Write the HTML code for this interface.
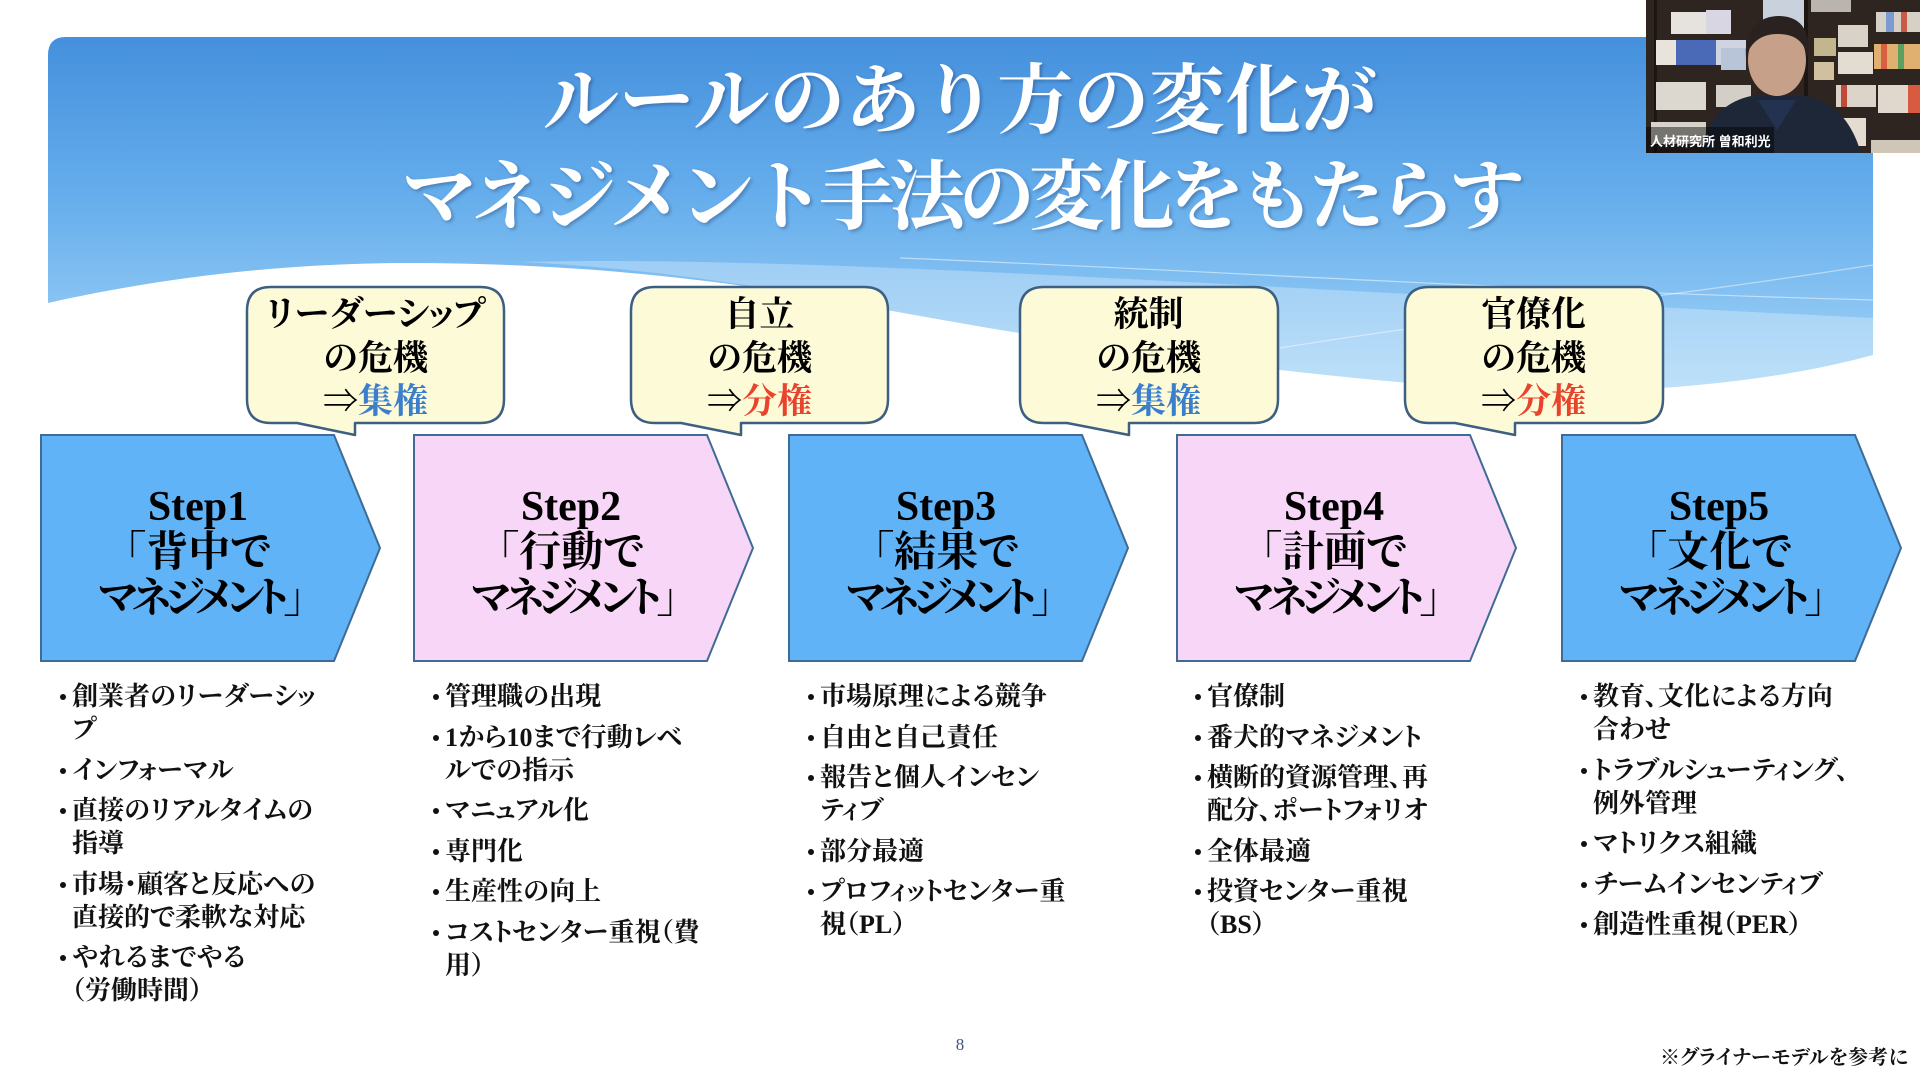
<!DOCTYPE html>
<html lang="ja">
<head>
<meta charset="utf-8">
<style>
  html,body{margin:0;padding:0;background:#fff;}
  body{width:1920px;height:1080px;position:relative;overflow:hidden;}
  .serif{font-family:"Liberation Serif","Noto Serif CJK SC",serif;}
  .abs{position:absolute;}
  .title{position:absolute;left:0;width:1920px;text-align:center;color:#fff;font-weight:700;
    font-family:"Liberation Serif","Noto Serif CJK SC",serif;text-shadow:2px 2px 3px rgba(0,0,40,0.25);white-space:nowrap;}
  .step{position:absolute;width:300px;text-align:center;font-size:42px;line-height:46px;font-weight:700;color:#000;
    font-family:"Liberation Serif","Noto Serif CJK SC",serif;font-feature-settings:"palt";white-space:nowrap;top:484px;}
  .step .m{letter-spacing:-6px;}
  .bub{position:absolute;width:257px;text-align:center;font-size:35px;line-height:43.5px;font-weight:700;color:#000;
    font-family:"Liberation Serif","Noto Serif CJK SC",serif;font-feature-settings:"palt";white-space:nowrap;top:293px;}
  .blue{color:#3b7fcc;}
  .red{color:#e8432c;}
  .col{position:absolute;top:680px;font-size:26px;line-height:33px;font-weight:700;color:#111;
    font-family:"Liberation Serif","Noto Serif CJK SC",serif;font-feature-settings:"palt";white-space:nowrap;}
  .col div{position:relative;margin-bottom:7.5px;}
  .col div::before{content:"";position:absolute;left:-12px;top:14px;width:6px;height:6px;border-radius:50%;background:#111;}
</style>
</head>
<body>

<svg class="abs" style="left:0;top:0" width="1920" height="1080" viewBox="0 0 1920 1080">
  <defs>
    <linearGradient id="bg" x1="0" y1="37" x2="0" y2="400" gradientUnits="userSpaceOnUse">
      <stop offset="0" stop-color="#4590dd"/>
      <stop offset="0.45" stop-color="#66aeec"/>
      <stop offset="1" stop-color="#a8d7f8"/>
    </linearGradient>
  </defs>
  <path d="M48,55 Q48,37 66,37 L1855,37 Q1873,37 1873,55 L1873,460 L48,460 Z" fill="url(#bg)"/>
  <path d="M520,262 C800,255 1200,285 1873,318 L1873,357 C1800,375 1700,390 1560,392 C1350,385 1100,350 860,305 C740,282 640,268 520,262 Z" fill="#ffffff" opacity="0.28"/>
  <path d="M900,258 C1200,270 1500,290 1873,300" fill="none" stroke="#ffffff" stroke-width="1.2" opacity="0.5"/>
  <path d="M1280,348 C1450,320 1650,300 1873,265" fill="none" stroke="#ffffff" stroke-width="1.2" opacity="0.45"/>
  <path d="M48,303 C150,280 280,262 420,263 C560,264 700,275 860,305 C1100,350 1350,385 1560,392 C1700,390 1800,375 1873,355 L1873,1080 L0,1080 L0,303 Z" fill="#ffffff"/>

  <g stroke="#3f6b94" stroke-width="2" stroke-linejoin="miter">
    <path d="M41,435 L334,435 L380,548 L334,661 L41,661 Z" fill="#61b3f7"/>
    <path d="M414,435 L707,435 L753,548 L707,661 L414,661 Z" fill="#f7d6f7"/>
    <path d="M789,435 L1082,435 L1128,548 L1082,661 L789,661 Z" fill="#61b3f7"/>
    <path d="M1177,435 L1470,435 L1516,548 L1470,661 L1177,661 Z" fill="#f7d6f7"/>
    <path d="M1562,435 L1855,435 L1901,548 L1855,661 L1562,661 Z" fill="#61b3f7"/>
  </g>

  <g fill="#fdfad7" stroke="#3d5f82" stroke-width="2.5" stroke-linejoin="round">
    <path d="M271,287 H480 Q504,287 504,311 V399 Q504,423 480,423 H355 L355,435 L297,423 H271 Q247,423 247,399 V311 Q247,287 271,287 Z"/>
    <path d="M655,287 H864 Q888,287 888,311 V399 Q888,423 864,423 H741 L741,435 L681,423 H655 Q631,423 631,399 V311 Q631,287 655,287 Z"/>
    <path d="M1044,287 H1254 Q1278,287 1278,311 V399 Q1278,423 1254,423 H1129 L1129,435 L1067,423 H1044 Q1020,423 1020,399 V311 Q1020,287 1044,287 Z"/>
    <path d="M1429,287 H1639 Q1663,287 1663,311 V399 Q1663,423 1639,423 H1515 L1515,435 L1455,423 H1429 Q1405,423 1405,399 V311 Q1405,287 1429,287 Z"/>
  </g>
</svg>

<div class="title" style="top:56px;font-size:76px;line-height:92px;">ルールのあり方の変化が</div>
<div class="title" style="top:152px;font-size:76px;line-height:92px;letter-spacing:-6px;">マネジメント手法の変化をもたらす</div>

<div class="bub" style="left:247px;">リーダーシップ<br>の危機<br>⇒<span class="blue">集権</span></div>
<div class="bub" style="left:631px;">自立<br>の危機<br>⇒<span class="red">分権</span></div>
<div class="bub" style="left:1020px;">統制<br>の危機<br>⇒<span class="blue">集権</span></div>
<div class="bub" style="left:1405px;">官僚化<br>の危機<br>⇒<span class="red">分権</span></div>

<div class="step" style="left:48px;">Step1<br>「背中で<br><span class="m">マネジメント」</span></div>
<div class="step" style="left:421px;">Step2<br>「行動で<br><span class="m">マネジメント」</span></div>
<div class="step" style="left:796px;">Step3<br>「結果で<br><span class="m">マネジメント」</span></div>
<div class="step" style="left:1184px;">Step4<br>「計画で<br><span class="m">マネジメント」</span></div>
<div class="step" style="left:1569px;">Step5<br>「文化で<br><span class="m">マネジメント」</span></div>

<div class="col" style="left:72px;">
  <div>創業者のリーダーシッ<br>プ</div>
  <div>インフォーマル</div>
  <div>直接のリアルタイムの<br>指導</div>
  <div>市場・顧客と反応への<br>直接的で柔軟な対応</div>
  <div>やれるまでやる<br>（労働時間）</div>
</div>
<div class="col" style="left:445px;">
  <div>管理職の出現</div>
  <div>1から10まで行動レベ<br>ルでの指示</div>
  <div>マニュアル化</div>
  <div>専門化</div>
  <div>生産性の向上</div>
  <div>コストセンター重視（費<br>用）</div>
</div>
<div class="col" style="left:820px;">
  <div>市場原理による競争</div>
  <div>自由と自己責任</div>
  <div>報告と個人インセン<br>ティブ</div>
  <div>部分最適</div>
  <div>プロフィットセンター重<br>視（PL）</div>
</div>
<div class="col" style="left:1207px;">
  <div>官僚制</div>
  <div>番犬的マネジメント</div>
  <div>横断的資源管理、再<br>配分、ポートフォリオ</div>
  <div>全体最適</div>
  <div>投資センター重視<br>（BS）</div>
</div>
<div class="col" style="left:1593px;">
  <div>教育、文化による方向<br>合わせ</div>
  <div>トラブルシューティング、<br>例外管理</div>
  <div>マトリクス組織</div>
  <div>チームインセンティブ</div>
  <div>創造性重視（PER）</div>
</div>

<div class="abs serif" style="left:940px;width:40px;text-align:center;top:1034px;font-size:17px;line-height:22px;color:#44557a;">8</div>
<div class="abs serif" style="left:1660px;top:1046px;font-size:20px;line-height:24px;font-weight:700;color:#111;font-feature-settings:'palt';white-space:nowrap;">※グライナーモデルを参考に</div>

<svg class="abs" style="left:1646px;top:0" width="274" height="153" viewBox="0 0 274 153">
  <rect x="0" y="0" width="274" height="153" fill="#2f2520"/>
  <rect x="117" y="0" width="45" height="30" fill="#c9d2dc"/>
  <rect x="165" y="0" width="40" height="12" fill="#b9b4ae"/>
  <rect x="8" y="0" width="3" height="153" fill="#1c1512"/>
  <rect x="25" y="12" width="35" height="22" fill="#e6e2de"/>
  <rect x="60" y="10" width="25" height="24" fill="#d8d6e2"/>
  <rect x="10" y="40" width="20" height="25" fill="#e8e4dc"/>
  <rect x="30" y="40" width="40" height="25" fill="#4a6ab8"/>
  <rect x="70" y="40" width="30" height="25" fill="#d0d4e0"/>
  <rect x="75" y="48" width="25" height="22" fill="#b8c4d8"/>
  <rect x="10" y="82" width="50" height="28" fill="#ddd8cf"/>
  <rect x="70" y="85" width="35" height="22" fill="#d4cfc6"/>
  <rect x="5" y="122" width="55" height="22" fill="#d8d3ca"/>
  <rect x="158" y="0" width="4" height="153" fill="#1c1512"/>
  <rect x="168" y="38" width="22" height="18" fill="#c4b68c"/>
  <rect x="192" y="25" width="30" height="22" fill="#d8d2c8"/>
  <rect x="230" y="12" width="44" height="20" fill="#d6d0c6"/>
  <rect x="240" y="12" width="8" height="20" fill="#7a9ad0"/>
  <rect x="255" y="12" width="6" height="20" fill="#c85a48"/>
  <rect x="168" y="62" width="20" height="18" fill="#d0c0a0"/>
  <rect x="192" y="52" width="35" height="22" fill="#e2dcd2"/>
  <rect x="228" y="44" width="46" height="25" fill="#e0b070"/>
  <rect x="235" y="44" width="6" height="25" fill="#d86040"/>
  <rect x="252" y="44" width="6" height="25" fill="#5aa060"/>
  <rect x="190" y="85" width="40" height="22" fill="#dcd4c8"/>
  <rect x="195" y="85" width="6" height="22" fill="#c04a3a"/>
  <rect x="232" y="85" width="42" height="28" fill="#e0d8cc"/>
  <rect x="262" y="85" width="12" height="28" fill="#d85a40"/>
  <rect x="192" y="118" width="28" height="28" fill="#e4dcd0"/>
  <rect x="225" y="140" width="49" height="13" fill="#cfc6b8"/>
  <path d="M55,153 C60,120 78,102 105,96 L160,96 C188,102 205,120 215,153 Z" fill="#1e2738"/>
  <path d="M112,100 L131,130 L150,100 Z" fill="#233250"/>
  <ellipse cx="131" cy="60" rx="29" ry="36" fill="#c7a08a"/>
  <path d="M100,58 C98,26 116,16 133,16 C152,16 166,28 162,58 C158,40 148,34 131,34 C116,34 104,42 100,58 Z" fill="#2a2220"/>
  <rect x="0" y="127" width="128" height="26" fill="#000" opacity="0.45"/>
  <text x="4" y="146" font-family="Liberation Sans, Noto Sans CJK JP, sans-serif" font-size="13" font-weight="700" fill="#fff">人材研究所 曽和利光</text>
</svg>

</body>
</html>
